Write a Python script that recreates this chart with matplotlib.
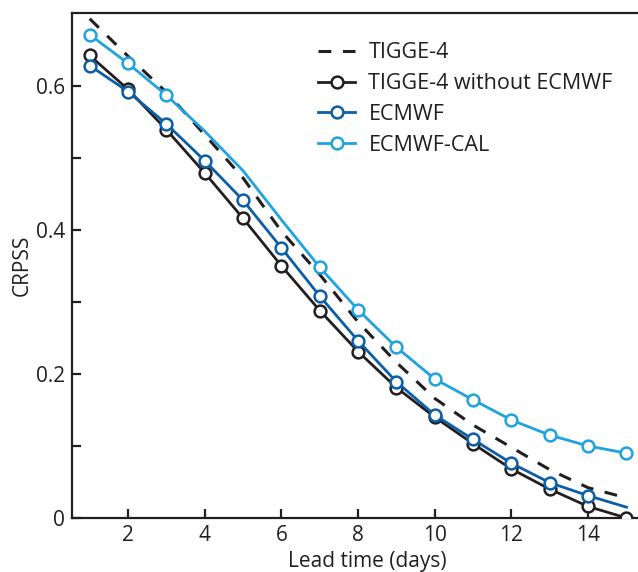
import numpy as np
import matplotlib
matplotlib.use('Agg')
import matplotlib.pyplot as plt

lead_days = [1, 2, 3, 4, 5, 6, 7, 8, 9, 10, 11, 12, 13, 14, 15]
tigge4 = [0.693, 0.641, 0.591, 0.532, 0.472, 0.398, 0.338, 0.272, 0.216, 0.166, 0.129, 0.098, 0.067, 0.042, 0.028]
tigge4_no_ecmwf = [0.642, 0.595, 0.539, 0.479, 0.416, 0.350, 0.288, 0.231, 0.181, 0.140, 0.103, 0.068, 0.040, 0.016, 0.0]
ecmwf = [0.628, 0.592, 0.547, 0.496, 0.441, 0.375, 0.308, 0.246, 0.189, 0.143, 0.109, 0.076, 0.049, 0.031, 0.015]
ecmwf_cal = [0.671, 0.631, 0.587, 0.537, 0.482, 0.414, 0.348, 0.289, 0.237, 0.193, 0.164, 0.136, 0.115, 0.100, 0.090]

x_ticks = [2, 4, 6, 8, 10, 12, 14]
y_ticks = [0, 0.1, 0.2, 0.3, 0.4, 0.5, 0.6]
y_labels = ['0', '', '0.2', '', '0.4', '', '0.6']

plt.rcParams['font.family'] = ['Open Sans', 'DejaVu Sans']
dark = '#231f20'
blue = '#0b5ea8'
light = '#1ea3e0'

fig = plt.figure(figsize=(6.38, 5.72), dpi=100)
ax = fig.add_axes([0.1129, 0.0944, 0.8871, 0.8829])

mk = dict(marker='o', ms=8.5, mfc='white', mew=1.8)
ax.plot(lead_days, tigge4_no_ecmwf, color=dark, lw=2, mec=dark, label='TIGGE-4 without ECMWF', zorder=3, **mk)
ax.plot(lead_days, tigge4, color=dark, lw=2.2, dashes=(4.2, 3.8), label='TIGGE-4', zorder=4)
ax.plot(lead_days, ecmwf, color=blue, lw=2, mec=blue, label='ECMWF', zorder=5,
        markevery=list(range(14)), **mk)
ax.plot(lead_days, ecmwf_cal, color=light, lw=2, mec=light, label='ECMWF-CAL', zorder=6,
        markevery=[0, 1, 2, 6, 7, 8, 9, 10, 11, 12, 13, 14], **mk)

ax.set_xlim(0.54, 15.3)
ax.set_ylim(0, 0.701)
ax.set_xticks(x_ticks)
ax.set_yticks(y_ticks)
ax.set_yticklabels(y_labels)
ax.tick_params(direction='in', length=6.5, width=1.6, labelsize=15, colors=dark, pad=5)
for s in ['left', 'top', 'bottom']:
    ax.spines[s].set_linewidth(1.6)
    ax.spines[s].set_color(dark)
ax.spines['right'].set_visible(False)

ax.set_xlabel('Lead time (days)', fontsize=15, color=dark)
ax.xaxis.set_label_coords(0.522, -0.066, transform=ax.transAxes)
ax.xaxis.label.set_va('top')
ax.set_ylabel('CRPSS', fontsize=15, color=dark, labelpad=2)

h, l = ax.get_legend_handles_labels()
order = [1, 0, 2, 3]
ax.legend([h[i] for i in order], [l[i] for i in order], loc='upper left',
          bbox_to_anchor=(0.40, 0.98), frameon=False, fontsize=15.5,
          handlelength=1.75, handletextpad=0.6, labelspacing=0.45, labelcolor=dark)

fig.savefig('out.png', dpi=100)
